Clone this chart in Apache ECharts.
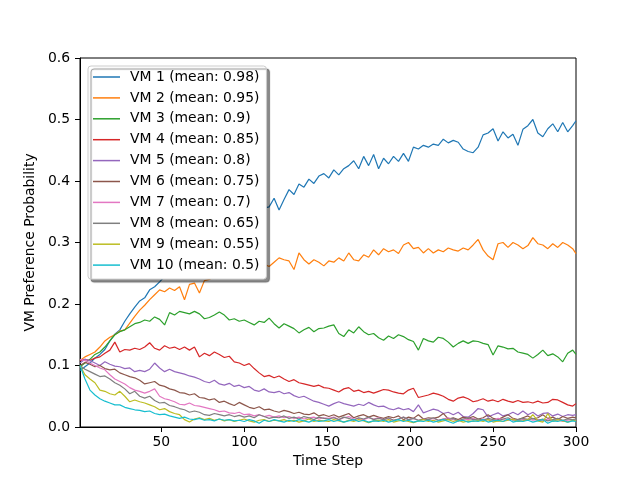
<!DOCTYPE html>
<html>
<head>
<meta charset="utf-8">
<script src="https://cdn.jsdelivr.net/npm/echarts@6/dist/echarts.min.js"></script>
<style>html,body{margin:0;padding:0;background:#fff}#c{width:640px;height:480px}</style>
</head>
<body>
<div id="c"></div>
<script>
// Time steps sampled: 1,4,7,...,298 and 300
const steps = [];
for (let s = 1; s <= 298; s += 3) steps.push(s);
steps.push(300);

const names = ["VM 1 (mean: 0.98)","VM 2 (mean: 0.95)","VM 3 (mean: 0.9)","VM 4 (mean: 0.85)","VM 5 (mean: 0.8)","VM 6 (mean: 0.75)","VM 7 (mean: 0.7)","VM 8 (mean: 0.65)","VM 9 (mean: 0.55)","VM 10 (mean: 0.5)"];
const colors = ["#1f77b4","#ff7f0e","#2ca02c","#d62728","#9467bd","#8c564b","#e377c2","#7f7f7f","#bcbd22","#17becf"];
const xTicks = [50,100,150,200,250,300];

const vm1 = [0.092,0.098,0.104,0.112,0.118,0.126,0.14,0.151,0.158,0.172,
 0.184,0.195,0.205,0.21,0.223,0.228,0.236,0.245,0.252,0.262,
 0.268,0.275,0.28,0.288,0.292,0.3,0.305,0.31,0.318,0.322,
 0.328,0.334,0.338,0.342,0.346,0.35,0.352,0.356,0.358,0.372,
 0.353,0.37,0.386,0.378,0.395,0.39,0.403,0.396,0.408,0.412,
 0.405,0.418,0.41,0.42,0.425,0.433,0.42,0.44,0.425,0.443,
 0.42,0.437,0.428,0.44,0.432,0.445,0.432,0.455,0.452,0.458,
 0.455,0.46,0.458,0.468,0.462,0.466,0.463,0.452,0.448,0.446,
 0.455,0.475,0.478,0.485,0.465,0.48,0.47,0.476,0.458,0.484,
 0.49,0.5,0.478,0.472,0.485,0.493,0.48,0.495,0.48,0.49,
 0.498];
const vm2 = [0.108,0.114,0.118,0.122,0.13,0.14,0.146,0.15,0.156,0.158,
 0.169,0.18,0.19,0.198,0.207,0.215,0.223,0.22,0.226,0.222,
 0.228,0.207,0.232,0.234,0.218,0.238,0.24,0.245,0.25,0.245,
 0.25,0.255,0.252,0.258,0.255,0.262,0.258,0.265,0.261,0.268,
 0.275,0.272,0.27,0.256,0.283,0.272,0.265,0.272,0.268,0.262,
 0.27,0.268,0.275,0.27,0.283,0.272,0.27,0.28,0.276,0.288,
 0.28,0.29,0.285,0.288,0.282,0.296,0.3,0.29,0.292,0.283,
 0.29,0.283,0.288,0.285,0.291,0.288,0.286,0.291,0.288,0.296,
 0.305,0.288,0.278,0.272,0.298,0.3,0.292,0.3,0.296,0.29,
 0.295,0.308,0.298,0.296,0.29,0.298,0.292,0.3,0.296,0.29,
 0.282];
const vm3 = [0.098,0.104,0.11,0.118,0.122,0.13,0.14,0.15,0.155,0.158,
 0.163,0.168,0.17,0.174,0.172,0.179,0.175,0.166,0.186,0.182,
 0.188,0.186,0.184,0.188,0.184,0.176,0.178,0.182,0.187,0.182,
 0.174,0.176,0.172,0.174,0.17,0.166,0.172,0.17,0.177,0.168,
 0.161,0.168,0.164,0.16,0.153,0.158,0.162,0.155,0.16,0.161,
 0.164,0.166,0.152,0.147,0.158,0.153,0.163,0.155,0.15,0.152,
 0.145,0.141,0.148,0.144,0.15,0.147,0.142,0.139,0.125,0.144,
 0.14,0.138,0.146,0.144,0.138,0.13,0.136,0.14,0.136,0.14,
 0.139,0.136,0.134,0.117,0.132,0.13,0.127,0.128,0.122,0.12,
 0.118,0.112,0.118,0.125,0.116,0.119,0.114,0.106,0.12,0.125,
 0.118];
const vm4 = [0.108,0.11,0.108,0.112,0.114,0.12,0.125,0.138,0.122,0.126,
 0.125,0.128,0.126,0.13,0.137,0.128,0.125,0.132,0.128,0.13,
 0.126,0.13,0.125,0.13,0.114,0.12,0.116,0.122,0.118,0.113,
 0.115,0.106,0.104,0.1,0.103,0.095,0.088,0.082,0.084,0.08,
 0.083,0.078,0.074,0.077,0.072,0.07,0.068,0.066,0.068,0.064,
 0.063,0.06,0.057,0.062,0.064,0.058,0.06,0.056,0.058,0.055,
 0.058,0.061,0.06,0.057,0.055,0.054,0.06,0.063,0.048,0.05,
 0.052,0.055,0.053,0.05,0.045,0.042,0.047,0.049,0.046,0.041,
 0.043,0.046,0.042,0.044,0.041,0.045,0.042,0.04,0.043,0.04,
 0.041,0.039,0.042,0.039,0.04,0.045,0.044,0.04,0.036,0.034,
 0.038];
const vm5 = [0.104,0.11,0.108,0.104,0.1,0.106,0.102,0.099,0.098,0.095,
 0.096,0.09,0.092,0.09,0.094,0.104,0.096,0.09,0.094,0.09,
 0.088,0.086,0.083,0.081,0.078,0.074,0.072,0.076,0.07,0.068,
 0.071,0.066,0.068,0.064,0.066,0.06,0.058,0.062,0.057,0.056,
 0.058,0.054,0.056,0.051,0.048,0.05,0.046,0.042,0.04,0.037,
 0.034,0.038,0.041,0.038,0.036,0.034,0.037,0.035,0.04,0.036,
 0.033,0.034,0.03,0.028,0.031,0.028,0.03,0.025,0.036,0.023,
 0.026,0.029,0.027,0.022,0.024,0.02,0.024,0.017,0.016,0.022,
 0.03,0.028,0.016,0.02,0.023,0.018,0.02,0.024,0.02,0.026,
 0.02,0.024,0.018,0.022,0.023,0.018,0.021,0.017,0.02,0.019,
 0.02];
const vm6 = [0.1,0.105,0.102,0.098,0.1,0.095,0.093,0.094,0.088,0.085,
 0.082,0.08,0.076,0.07,0.072,0.074,0.068,0.066,0.062,0.06,
 0.056,0.055,0.052,0.054,0.048,0.047,0.044,0.046,0.04,0.042,
 0.038,0.035,0.04,0.036,0.032,0.03,0.033,0.028,0.029,0.026,
 0.024,0.027,0.025,0.022,0.024,0.021,0.02,0.023,0.018,0.02,
 0.017,0.02,0.016,0.019,0.022,0.015,0.018,0.02,0.016,0.019,
 0.016,0.014,0.017,0.015,0.018,0.012,0.016,0.014,0.02,0.013,
 0.015,0.014,0.016,0.022,0.013,0.015,0.012,0.016,0.014,0.017,
 0.013,0.015,0.02,0.014,0.012,0.016,0.02,0.014,0.012,0.015,
 0.018,0.013,0.015,0.02,0.014,0.016,0.012,0.017,0.014,0.016,
 0.015];
const vm7 = [0.11,0.108,0.104,0.1,0.096,0.093,0.085,0.078,0.074,0.07,
 0.064,0.06,0.058,0.055,0.058,0.062,0.05,0.046,0.044,0.041,
 0.037,0.036,0.039,0.035,0.034,0.032,0.03,0.028,0.025,0.026,
 0.023,0.022,0.024,0.02,0.021,0.018,0.02,0.017,0.019,0.016,
 0.018,0.015,0.017,0.014,0.016,0.013,0.015,0.016,0.013,0.015,
 0.014,0.016,0.012,0.015,0.017,0.013,0.014,0.012,0.015,0.013,
 0.015,0.012,0.014,0.011,0.013,0.016,0.012,0.014,0.011,0.013,
 0.012,0.014,0.011,0.013,0.015,0.012,0.01,0.013,0.012,0.014,
 0.011,0.013,0.012,0.01,0.014,0.012,0.011,0.013,0.01,0.012,
 0.013,0.011,0.012,0.01,0.013,0.011,0.012,0.009,0.011,0.012,
 0.011];
const vm8 = [0.1,0.094,0.09,0.086,0.082,0.083,0.078,0.072,0.068,0.062,
 0.054,0.058,0.05,0.047,0.05,0.043,0.039,0.04,0.035,0.033,
 0.03,0.028,0.024,0.026,0.024,0.02,0.019,0.022,0.02,0.018,
 0.02,0.017,0.019,0.016,0.018,0.015,0.02,0.017,0.014,0.016,
 0.015,0.018,0.014,0.016,0.013,0.017,0.015,0.012,0.016,0.014,
 0.013,0.015,0.012,0.016,0.014,0.011,0.015,0.013,0.016,0.012,
 0.014,0.012,0.015,0.011,0.013,0.016,0.012,0.014,0.011,0.013,
 0.012,0.015,0.011,0.013,0.012,0.014,0.01,0.013,0.015,0.012,
 0.013,0.011,0.014,0.012,0.01,0.013,0.015,0.011,0.012,0.014,
 0.012,0.014,0.011,0.013,0.01,0.012,0.014,0.011,0.013,0.012,
 0.013];
const vm9 = [0.1,0.085,0.078,0.072,0.06,0.058,0.054,0.052,0.058,0.05,
 0.041,0.044,0.041,0.039,0.036,0.033,0.028,0.03,0.025,0.022,
 0.02,0.012,0.008,0.013,0.015,0.012,0.014,0.011,0.013,0.01,
 0.012,0.009,0.011,0.013,0.01,0.008,0.011,0.012,0.009,0.011,
 0.01,0.012,0.009,0.011,0.008,0.01,0.013,0.009,0.011,0.01,
 0.009,0.012,0.01,0.008,0.011,0.009,0.012,0.01,0.007,0.01,
 0.011,0.009,0.012,0.008,0.01,0.011,0.009,0.007,0.01,0.012,
 0.009,0.011,0.008,0.01,0.012,0.009,0.011,0.008,0.01,0.009,
 0.011,0.009,0.012,0.008,0.01,0.009,0.011,0.013,0.009,0.01,
 0.012,0.02,0.01,0.008,0.022,0.009,0.012,0.01,0.008,0.011,
 0.01];
const vm10 = [0.1,0.078,0.06,0.052,0.046,0.042,0.039,0.036,0.036,0.032,
 0.03,0.028,0.027,0.025,0.026,0.022,0.02,0.021,0.018,0.016,
 0.014,0.016,0.013,0.012,0.014,0.011,0.012,0.01,0.013,0.011,
 0.012,0.01,0.011,0.009,0.012,0.01,0.006,0.011,0.009,0.012,
 0.01,0.008,0.011,0.009,0.012,0.01,0.008,0.011,0.009,0.01,
 0.012,0.009,0.011,0.008,0.01,0.012,0.009,0.011,0.008,0.01,
 0.009,0.011,0.008,0.01,0.012,0.009,0.011,0.008,0.01,0.009,
 0.011,0.008,0.01,0.012,0.009,0.006,0.01,0.011,0.008,0.01,
 0.009,0.012,0.008,0.01,0.011,0.009,0.013,0.008,0.01,0.009,
 0.011,0.008,0.01,0.012,0.006,0.01,0.009,0.011,0.008,0.01,
 0.009];
const allValues = [vm1,vm2,vm3,vm4,vm5,vm6,vm7,vm8,vm9,vm10];

const font = 'DejaVu Sans';
const fs = 13.9;
const chart = echarts.init(document.getElementById('c'), null, {renderer:'canvas'});
chart.setOption({
  animation: false,
  backgroundColor: '#ffffff',
  textStyle: {fontFamily: font},
  grid: {left: 80, right: 64, top: 58, bottom: 53, show: true, borderColor: '#000', borderWidth: 1, backgroundColor: 'transparent'},
  legend: {
    orient: 'vertical', left: 88, top: 66,
    data: names,
    icon: 'rect', itemWidth: 27, itemHeight: 1.5, itemGap: 6.9,
    padding: [4, 7, 7, 5],
    backgroundColor: '#fff', borderColor: '#cccccc', borderWidth: 1, borderRadius: 3,
    shadowColor: 'rgba(0,0,0,0.45)', shadowBlur: 1, shadowOffsetX: 3, shadowOffsetY: 3,
    textStyle: {fontFamily: font, fontSize: fs, color: '#000', lineHeight: 14, padding: [0,0,0,5]},
    selectedMode: false
  },
  xAxis: {
    type: 'value', min: 1, max: 300,
    name: 'Time Step', nameLocation: 'middle', nameGap: 27,
    nameTextStyle: {fontFamily: font, fontSize: fs, color: '#000'},
    axisLine: {show: true, lineStyle: {color: '#000', width: 1}},
    axisTick: {show: true, inside: false, length: 5, lineStyle: {color: '#000'}, customValues: xTicks},
    axisLabel: {fontFamily: font, fontSize: fs, color: '#000', margin: 8, customValues: xTicks},
    splitLine: {show: false}
  },
  yAxis: {
    type: 'value', min: 0, max: 0.6, interval: 0.1,
    name: 'VM Preference Probability', nameLocation: 'middle', nameGap: 33, nameRotate: 90,
    nameTextStyle: {fontFamily: font, fontSize: fs, color: '#000'},
    axisLine: {show: true, lineStyle: {color: '#000', width: 1}},
    axisTick: {show: true, inside: false, length: 5, lineStyle: {color: '#000'}},
    axisLabel: {fontFamily: font, fontSize: fs, color: '#000', margin: 10, formatter: v => v.toFixed(1)},
    splitLine: {show: false}
  },
  series: allValues.map((vals, k) => ({
    name: names[k], type: 'line', symbol: 'none', silent: true,
    color: colors[k],
    lineStyle: {color: colors[k], width: 1.2},
    data: steps.map((s, i) => [s, vals[i]])
  }))
});
</script>
</body>
</html>
